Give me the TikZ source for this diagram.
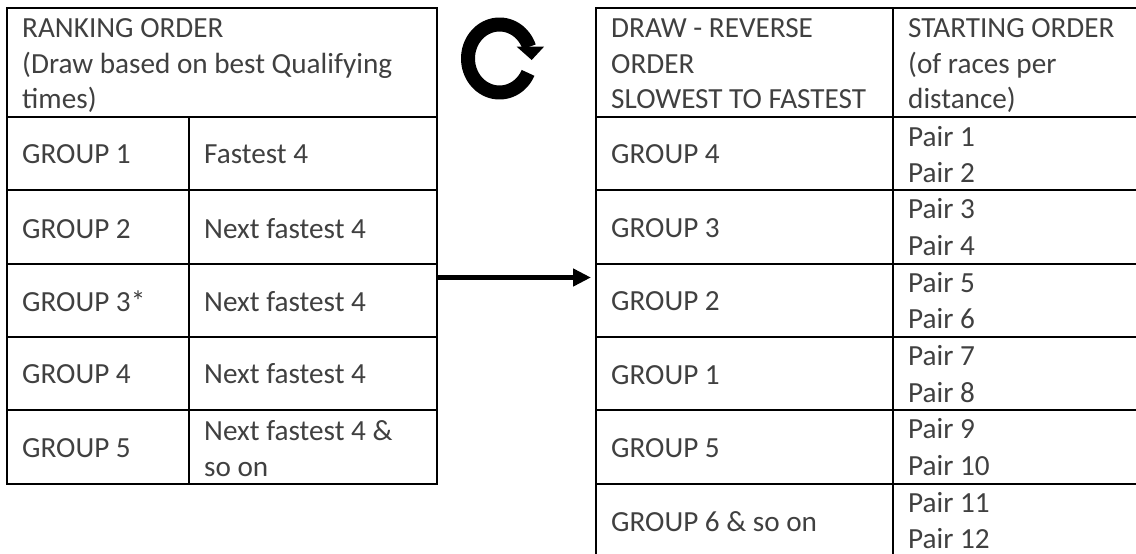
\documentclass[tikz,border=0pt]{standalone}
\usepackage{fontspec}
\setmainfont{Carlito}
\usetikzlibrary{arrows.meta}
\definecolor{txt}{HTML}{404040}
\tikzset{
  x=1pt,y=-1pt,
  rule/.style={line width=1.7pt,black},
  celltext/.style={anchor=base west,inner sep=0pt,text=txt,font=\fontsize{29.2pt}{36pt}\selectfont},
  tablebox/.style={draw,rule,inner sep=0pt,outer sep=0pt,anchor=north west},
  bigarrow/.style={line width=5.5pt,black,-{Triangle[length=18pt,width=17pt]}},
}
\begin{document}
\begin{tikzpicture}
\useasboundingbox (0,0) rectangle (1136,554);
% left table
\node[tablebox,minimum width=430pt,minimum height=476pt] (ltab) at (7,8) {};
\foreach \y in {117,190,264,337,410} \draw[rule] (7,\y)--(437,\y);
\draw[rule] (189,117)--(189,484);
\node[celltext] (lh1) at (22,37) {RANKING ORDER};
\node[celltext] (lh2) at (22,73) {(Draw based on best Qualifying};
\node[celltext] (lh3) at (22,108) {times)};
\node[celltext] (l1) at (22,163) {GROUP 1};
\node[celltext] (l2) at (22,238) {GROUP 2};
\node[celltext] (l3) at (22,311) {GROUP 3*};
\node[celltext] (l4) at (22,383) {GROUP 4};
\node[celltext] (l5) at (22,457) {GROUP 5};
\node[celltext] (r1) at (204,163) {Fastest 4};
\node[celltext] (r2) at (204,238) {Next fastest 4};
\node[celltext] (r3) at (204,311) {Next fastest 4};
\node[celltext] (r4) at (204,383) {Next fastest 4};
\node[celltext] (r5a) at (204,440) {Next fastest 4 \&};
\node[celltext] (r5b) at (204,476) {so on};
% right table
\draw[rule] (1136,8)--(596,8)--(596,554);
\foreach \y in {117,190,264,337,410,484} \draw[rule] (596,\y)--(1136,\y);
\draw[rule] (893,8)--(893,554);
\coordinate (rtabw) at (591,277.5);
\node[celltext] (dh1) at (611,37) {DRAW - REVERSE};
\node[celltext] (dh2) at (611,73) {ORDER};
\node[celltext] (dh3) at (611,108) {SLOWEST TO FASTEST};
\node[celltext] (sh1) at (908,37) {STARTING ORDER};
\node[celltext] (sh2) at (908,73) {(of races per};
\node[celltext] (sh3) at (908,108) {distance)};
\node[celltext] (g4) at (611,163) {GROUP 4};
\node[celltext] (g3) at (611,237) {GROUP 3};
\node[celltext] (g2) at (611,310) {GROUP 2};
\node[celltext] (g1) at (611,384) {GROUP 1};
\node[celltext] (g5) at (611,457) {GROUP 5};
\node[celltext] (g6) at (611,531) {GROUP 6 \& so on};
\node[celltext] (p1) at (908,146) {Pair 1};
\node[celltext] (p2) at (908,182) {Pair 2};
\node[celltext] (p3) at (908,218) {Pair 3};
\node[celltext] (p4) at (908,255) {Pair 4};
\node[celltext] (p5) at (908,292) {Pair 5};
\node[celltext] (p6) at (908,328) {Pair 6};
\node[celltext] (p7) at (908,365) {Pair 7};
\node[celltext] (p8) at (908,402) {Pair 8};
\node[celltext] (p9) at (908,438) {Pair 9};
\node[celltext] (p10) at (908,475) {Pair 10};
\node[celltext] (p11) at (908,512) {Pair 11};
\node[celltext] (p12) at (908,548) {Pair 12};
% arrow between tables
\draw[bigarrow] (ltab.east |- rtabw) -- (rtabw);
% circular arrow
\draw[line width=14pt,black] plot[domain=25:340,samples=80,smooth] ({499.5+31.5*cos(\x)},{58.5+34*sin(\x)});
\fill[black] (516.7,46.7)--(544,46.7)--(531.7,60)--cycle;
\end{tikzpicture}
\end{document}
